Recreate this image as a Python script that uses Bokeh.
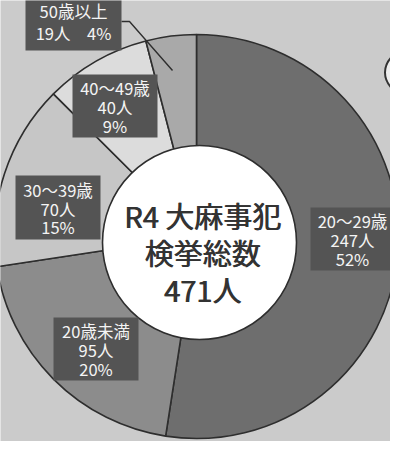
import math
from bokeh.plotting import figure
from bokeh.models import Range1d, ColumnDataSource
from bokeh.core.properties import value
from bokeh.embed import file_html
from bokeh.resources import INLINE

# ---- data ----
groups = ["20〜29歳", "20歳未満", "30〜39歳", "40〜49歳", "50歳以上"]
counts = [247, 95, 70, 40, 19]
percents = [52, 20, 15, 9, 4]
total = 471
title_lines = ["R4 大麻事犯", "検挙総数", f"{total}人"]

# ---- styling / layout (image pixel coords; y measured from top) ----
colors = ["#6e6e6e", "#8c8c8c", "#c6c6c6", "#dcdcdc", "#a9a9a9"]
W, H = 390, 441
def Y(img_y):
    return 457 - img_y

FONT = value("Noto Sans CJK JP")
cx, cy, R = 204, 244, 202
icx, icy, iR = 207, 250, 97

p = figure(width=W, height=H, x_range=Range1d(8, 398), y_range=Range1d(8, 449),
           output_backend="svg", toolbar_location=None, min_border=0)
p.axis.visible = False
p.grid.visible = False
p.outline_line_color = None
p.background_fill_color = "#cbcbcb"
p.border_fill_color = "#cbcbcb"

# decorative partial ellipse at the right edge
p.ellipse(x=[440], y=[Y(80)], width=95, height=60, fill_color="#eeeeee",
          line_color="#333333", line_width=2)

# wedges (clockwise from 12 o'clock)
starts, ends = [], []
cum = 0
for c in counts:
    starts.append(math.pi / 2 - 2 * math.pi * cum / total)
    cum += c
    ends.append(math.pi / 2 - 2 * math.pi * cum / total)
src = ColumnDataSource(dict(start=starts, end=ends, color=colors))
p.wedge(x=cx, y=Y(cy), radius=R, start_angle="start", end_angle="end",
        direction="clock", fill_color="color", line_color="#2e2e2e",
        line_width=1.6, source=src)

# inner white circle
p.circle(x=[icx], y=[Y(icy)], radius=iR, fill_color="white",
         line_color="#2e2e2e", line_width=1.6)

# center title (drawn twice with a tiny offset for a medium weight)
title_y = [222, 259, 296]
for dx in (0, 0.8):
    p.text(x=[210 + dx] * 3, y=[Y(v) for v in title_y], text=title_lines,
           text_font=FONT, text_font_size="29px",
           text_color="#333333", text_align="center", text_baseline="middle")

# leader line for 50歳以上
p.line(x=[129, 137, 180], y=[Y(29), Y(29), Y(78)], line_color="#2e2e2e", line_width=1.4)

# label boxes: (left, top, right, bottom) in image px
boxes = [
    (318, 215, 402, 278),
    (61, 325, 146, 388),
    (23, 183, 108, 247),
    (80, 82, 165, 145),
    (33, 0, 129, 58),
]
for i, (l, t, r, b) in enumerate(boxes):
    p.quad(left=[l], right=[r], top=[Y(t)], bottom=[Y(b)],
           fill_color="#545454", line_color=None)
    xc = (l + r) / 2
    if i == 4:
        lines = [groups[i], f"{counts[i]}人　{percents[i]}%"]
        ys = [t + 18, t + 40]
    else:
        lines = [groups[i], f"{counts[i]}人", f"{percents[i]}%"]
        h = b - t
        ys = [t + h * 0.22, t + h * 0.52, t + h * 0.81]
    p.text(x=[xc] * len(lines), y=[Y(v) for v in ys], text=lines,
           text_font=FONT, text_font_size="16.5px", text_color="#f4f4f4",
           text_align="center", text_baseline="middle")

open("out.html", "w").write(file_html(p, INLINE))
